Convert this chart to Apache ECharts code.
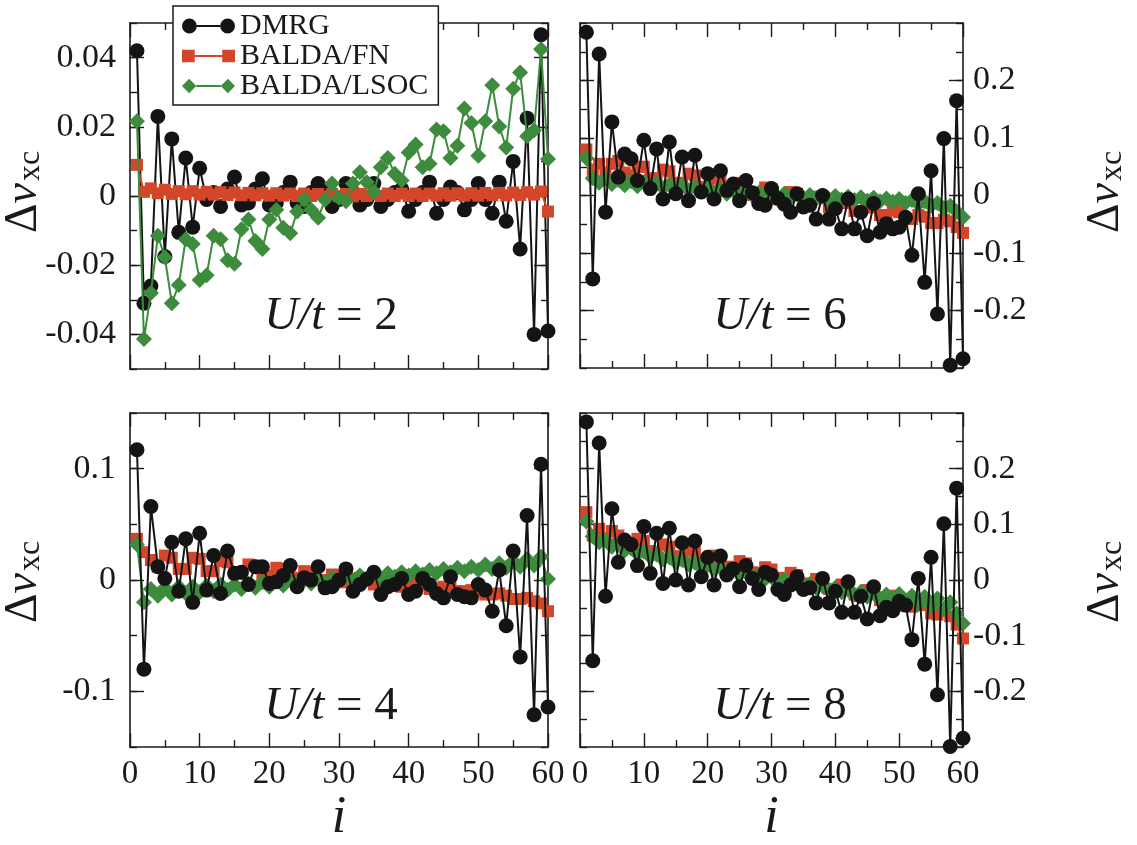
<!DOCTYPE html>
<html><head><meta charset="utf-8">
<script src="https://cdn.jsdelivr.net/npm/echarts@6.0.0/dist/echarts.min.js"></script>
<style>html,body{margin:0;padding:0;background:#fff}#chart{width:1137px;height:845px}</style>
</head><body><div id="chart"></div>
<script>
// ---------------- data ----------------
const SITES = [1,2,3,4,5,6,7,8,9,10,11,12,13,14,15,16,17,18,19,20,21,22,23,24,25,26,27,28,29,30,
  31,32,33,34,35,36,37,38,39,40,41,42,43,44,45,46,47,48,49,50,51,52,53,54,55,56,57,58,59,60];

const SERIES_NAMES = ['DMRG', 'BALDA/FN', 'BALDA/LSOC'];
const PANEL_LABELS = ['2', '6', '4', '8'];   // U/t values

// U/t = 2 (top left)
const TL_DMRG = [
  0.042, -0.031, -0.026, 0.023, -0.0175, 0.0165, -0.0105, 0.011, -0.009, 0.008,
  -0.001, 0.001, -0.003, 0.002, 0.0055, -0.0026, -0.002, 0.002, 0.005, -0.0026,
  -0.002, 0.001, 0.004, -0.002, -0.003, 0.001, 0.0036, 0.001, -0.003, -0.001,
  0.0036, 0.001, -0.0026, -0.001, 0.0036, -0.003, -0.001, 0.001, 0.002, -0.0044,
  -0.001, 0.001, 0.004, -0.005, -0.001, 0.0026, 0.001, -0.004, -0.001, 0.0036,
  -0.001, -0.005, 0.004, -0.0073, 0.010, -0.0153, 0.0225, -0.040, 0.0466, -0.039];
const TL_FN = [
  0.009, 0.0012, 0.0022, 0.0008, 0.0018, 0.0006, 0.0014, 0.0005, 0.0014, 0.0004,
  0.0012, 0.0004, 0.0011, 0.0003, 0.0010, 0.0002, 0.0009, 0.0002, 0.0008, 0.0001,
  0.0008, 0.0001, 0.0007, 0.0000, 0.0007, 0.0000, 0.0006, -0.0001, 0.0006, -0.0001,
  0.0006, -0.0001, 0.0006, 0.0000, 0.0006, 0.0000, 0.0007, 0.0000, 0.0007, 0.0000,
  0.0007, 0.0000, 0.0007, 0.0001, 0.0008, 0.0001, 0.0008, 0.0001, 0.0008, 0.0001,
  0.0009, 0.0002, 0.0009, 0.0002, 0.0010, 0.0003, 0.0011, 0.0004, 0.0013, -0.0045];
const TL_LSOC = [
  0.0216, -0.0413, -0.028, -0.0115, -0.0177, -0.031, -0.0257, -0.0125, -0.0139, -0.0243,
  -0.0229, -0.0115, -0.0125, -0.0186, -0.0196, -0.0096, -0.0068, -0.013, -0.0153, -0.0068,
  -0.004, -0.0092, -0.0108, -0.0045, -0.0011, -0.004, -0.0063, -0.0011, 0.0036, -0.0005,
  -0.0015, 0.0036, 0.0069, 0.004, 0.0012, 0.0083, 0.011, 0.0064, 0.0045, 0.0126,
  0.0149, 0.0083, 0.0093, 0.0192, 0.0187, 0.011, 0.0145, 0.0253, 0.0211, 0.0116,
  0.0216, 0.032, 0.0201, 0.014, 0.031, 0.0357, 0.0173, 0.019, 0.0424, 0.0107];

// U/t = 6 (top right)
const TR_DMRG = [
  0.284, -0.145, 0.246, -0.029, 0.128, 0.032, 0.072, 0.064, 0.026, 0.096,
  0.012, 0.081, -0.006, 0.093, 0.003, 0.067, -0.009, 0.070, 0.006, 0.038,
  -0.006, 0.043, 0.009, 0.020, -0.009, 0.026, 0.005, -0.014, -0.017, 0.012,
  -0.005, -0.015, -0.029, 0.003, -0.020, -0.017, -0.041, 0.000, -0.041, -0.023,
  -0.058, -0.006, -0.058, -0.029, -0.070, -0.014, -0.064, -0.049, -0.058, -0.055,
  -0.038, -0.104, 0.003, -0.151, 0.043, -0.206, 0.099, -0.295, 0.165, -0.284];
const TR_FN = [
  0.080, 0.045, 0.055, 0.040, 0.055, 0.060, 0.040, 0.035, 0.050, 0.050,
  0.030, 0.030, 0.045, 0.042, 0.022, 0.022, 0.038, 0.035, 0.015, 0.015,
  0.030, 0.027, 0.008, 0.008, 0.022, 0.019, 0.001, 0.001, 0.014, 0.011,
  -0.006, -0.006, 0.006, 0.003, -0.013, -0.013, -0.002, -0.005, -0.020, -0.020,
  -0.010, -0.013, -0.027, -0.027, -0.018, -0.021, -0.034, -0.034, -0.026, -0.029,
  -0.041, -0.041, -0.034, -0.037, -0.048, -0.048, -0.042, -0.045, -0.055, -0.065];
const TR_LSOC = [
  0.065, 0.030, 0.022, 0.030, 0.020, 0.027, 0.018, 0.025, 0.016, 0.023,
  0.015, 0.021, 0.013, 0.019, 0.011, 0.017, 0.009, 0.015, 0.007, 0.013,
  0.005, 0.011, 0.003, 0.009, 0.002, 0.007, 0.000, 0.005, -0.001, 0.004,
  -0.002, 0.003, -0.003, 0.002, -0.004, 0.001, -0.005, 0.000, -0.006, -0.001,
  -0.007, -0.002, -0.008, -0.003, -0.009, -0.004, -0.010, -0.005, -0.011, -0.006,
  -0.013, -0.008, -0.015, -0.010, -0.018, -0.013, -0.022, -0.018, -0.028, -0.038];

// U/t = 4 (bottom left)
const BL_DMRG = [
  0.117, -0.080, 0.066, 0.012, 0.0015, 0.034, -0.010, 0.037, -0.020, 0.042,
  -0.009, 0.022, -0.012, 0.026, 0.006, 0.007, -0.004, 0.012, 0.012, -0.003,
  -0.0015, 0.004, 0.013, -0.006, 0.002, 0.000, 0.012, -0.007, -0.006, 0.000,
  0.010, -0.010, -0.004, 0.001, 0.007, -0.013, -0.006, -0.004, 0.0015, -0.013,
  -0.010, 0.0015, -0.004, -0.012, -0.016, 0.003, -0.013, -0.015, -0.016, -0.004,
  -0.009, -0.028, 0.009, -0.041, 0.026, -0.069, 0.058, -0.121, 0.104, -0.114];
const BL_FN = [
  0.037, 0.025, 0.018, 0.012, 0.022, 0.020, 0.010, 0.010, 0.020, 0.019,
  0.008, 0.008, 0.017, 0.016, 0.006, 0.006, 0.014, 0.013, 0.004, 0.004,
  0.011, 0.010, 0.002, 0.002, 0.008, 0.007, 0.000, 0.000, 0.005, 0.004,
  -0.002, -0.002, 0.002, 0.001, -0.004, -0.004, -0.001, -0.002, -0.006, -0.006,
  -0.003, -0.004, -0.008, -0.008, -0.006, -0.007, -0.010, -0.010, -0.009, -0.010,
  -0.013, -0.013, -0.012, -0.014, -0.017, -0.017, -0.016, -0.019, -0.021, -0.028];
const BL_LSOC = [
  0.032, -0.020, -0.008, -0.014, -0.007, -0.013, -0.006, -0.012, -0.006, -0.011,
  -0.005, -0.010, -0.004, -0.009, -0.004, -0.008, -0.003, -0.007, -0.002, -0.006,
  -0.001, -0.005, 0.000, -0.004, 0.000, -0.003, 0.001, -0.002, 0.002, -0.001,
  0.003, 0.000, 0.004, 0.001, 0.005, 0.002, 0.006, 0.003, 0.007, 0.004,
  0.008, 0.005, 0.009, 0.006, 0.010, 0.007, 0.011, 0.008, 0.012, 0.009,
  0.014, 0.010, 0.015, 0.011, 0.017, 0.012, 0.019, 0.013, 0.021, 0.001];

// U/t = 8 (bottom right)
const BR_DMRG = [
  0.284, -0.145, 0.246, -0.029, 0.128, 0.032, 0.072, 0.064, 0.026, 0.096,
  0.012, 0.084, -0.006, 0.093, 0.000, 0.067, -0.009, 0.070, 0.006, 0.041,
  -0.009, 0.043, 0.009, 0.020, -0.012, 0.026, 0.003, -0.017, 0.014, 0.009,
  -0.017, -0.026, -0.009, 0.006, -0.017, -0.014, -0.041, 0.003, -0.041, -0.020,
  -0.058, -0.003, -0.058, -0.029, -0.070, -0.012, -0.064, -0.049, -0.055, -0.038,
  -0.045, -0.107, 0.003, -0.151, 0.041, -0.206, 0.101, -0.299, 0.165, -0.284];
const BR_FN = [
  0.122, 0.080, 0.092, 0.075, 0.088, 0.080, 0.062, 0.060, 0.074, 0.070,
  0.052, 0.050, 0.064, 0.060, 0.043, 0.041, 0.054, 0.050, 0.034, 0.032,
  0.044, 0.040, 0.024, 0.022, 0.034, 0.030, 0.014, 0.012, 0.023, 0.019,
  0.004, 0.002, 0.013, 0.009, -0.006, -0.008, 0.002, -0.002, -0.016, -0.018,
  -0.008, -0.012, -0.026, -0.028, -0.018, -0.022, -0.036, -0.038, -0.028, -0.032,
  -0.046, -0.048, -0.040, -0.045, -0.060, -0.062, -0.055, -0.065, -0.080, -0.105];
const BR_LSOC = [
  0.105, 0.078, 0.068, 0.072, 0.060, 0.064, 0.053, 0.057, 0.047, 0.051,
  0.042, 0.046, 0.037, 0.041, 0.032, 0.036, 0.028, 0.031, 0.023, 0.027,
  0.019, 0.022, 0.014, 0.018, 0.010, 0.013, 0.006, 0.009, 0.002, 0.005,
  -0.002, 0.001, -0.006, -0.003, -0.010, -0.007, -0.014, -0.011, -0.018, -0.014,
  -0.022, -0.018, -0.026, -0.021, -0.030, -0.024, -0.033, -0.026, -0.036, -0.025,
  -0.040, -0.028, -0.043, -0.030, -0.047, -0.033, -0.052, -0.040, -0.060, -0.078];

// tick values
const X_RANGE = [0, 60];
const X_STEP = 10;
const TL_TICKS = [-0.04, -0.02, 0, 0.02, 0.04];
const TR_TICKS = [-0.2, -0.1, 0, 0.1, 0.2];
const BL_TICKS = [-0.1, 0, 0.1];
const BR_TICKS = [-0.2, -0.1, 0, 0.1, 0.2];

// ---------------- layout / style ----------------
const FONT = '"Liberation Serif", "DejaVu Serif", serif';
const INK = '#1a1a1a';
const COLORS = ['#141414', '#d4462a', '#3d8b3d'];

const panels = [
  {grid:{left:130, top:23, width:418, height:346}, range:[-0.05, 0.05], ticks:TL_TICKS, minor:0.01, side:'left',  showX:false, data:[TL_DMRG, TL_FN, TL_LSOC], dmrgTop:false, label:PANEL_LABELS[0], lx:331, ly:317, nx:24,   ny:192},
  {grid:{left:580, top:23, width:383, height:345}, range:[-0.3, 0.3],   ticks:TR_TICKS, minor:0.05, side:'right', showX:false, data:[TR_DMRG, TR_FN, TR_LSOC], dmrgTop:true,  label:PANEL_LABELS[1], lx:780, ly:317, nx:1106, ny:192},
  {grid:{left:130, top:413, width:418, height:345}, range:[-0.15, 0.15], ticks:BL_TICKS, minor:0.05, side:'left',  showX:true,  data:[BL_DMRG, BL_FN, BL_LSOC], dmrgTop:true,  label:PANEL_LABELS[2], lx:331, ly:707, nx:24,   ny:582},
  {grid:{left:580, top:413, width:383, height:345}, range:[-0.3, 0.3],   ticks:BR_TICKS, minor:0.05, side:'right', showX:true,  data:[BR_DMRG, BR_FN, BR_LSOC], dmrgTop:true,  label:PANEL_LABELS[3], lx:780, ly:707, nx:1106, ny:582}
];

const lineStyle = {color: INK, width: 1.6};
const tickStyle = {color: INK, width: 1.4};
const nameRich = {
  d: {fontSize: 46, fontFamily: FONT, fill: INK, lineHeight: 46},
  v: {fontSize: 46, fontFamily: FONT, fontStyle: 'italic', fill: INK, lineHeight: 46},
  s: {fontSize: 32, fontFamily: FONT, fill: INK, lineHeight: 32, padding: [24, 0, 0, 2], verticalAlign: 'bottom'}
};
const fmt = v => (v === 0 ? '0' : String(+(+v).toFixed(3)));

const grid = [], xAxis = [], yAxis = [], series = [], graphic = [];

panels.forEach((p, k) => {
  grid.push(Object.assign({containLabel: false}, p.grid));
  const xBase = {
    type: 'value', gridIndex: k, min: X_RANGE[0], max: X_RANGE[1], interval: X_STEP,
    axisLine: {show: true, onZero: false, lineStyle},
    axisTick: {show: true, inside: true, length: 14, lineStyle: tickStyle},
    minorTick: {show: true, splitNumber: 2, length: 7, lineStyle: tickStyle},
    splitLine: {show: false}, minorSplitLine: {show: false}
  };
  xAxis.push(Object.assign({}, xBase, {
    position: 'bottom',
    axisLabel: {show: p.showX, margin: 11, fontSize: 33, fontFamily: FONT, color: INK},
    name: p.showX ? 'i' : '', nameLocation: 'middle', nameGap: 36,
    nameTextStyle: {fontSize: 52, fontStyle: 'italic', fontFamily: FONT, color: INK}
  }));
  xAxis.push(Object.assign({}, xBase, {position: 'top', axisLabel: {show: false}}));

  ['left', 'right'].forEach(pos => {
    const labeled = pos === p.side;
    yAxis.push({
      type: 'value', gridIndex: k, position: pos, min: p.range[0], max: p.range[1],
      axisLine: {show: true, onZero: false, lineStyle},
      axisTick: {show: true, inside: true, length: 14, customValues: p.ticks, lineStyle: tickStyle},
      axisLabel: {show: labeled, customValues: p.ticks, formatter: fmt, margin: pos === 'left' ? 14 : 10,
                  fontSize: 34, fontFamily: FONT, color: INK},
      splitLine: {show: false}
    });
    yAxis.push({
      type: 'value', gridIndex: k, position: pos, min: p.range[0], max: p.range[1], interval: p.minor,
      axisLine: {show: false, onZero: false},
      axisTick: {show: true, inside: true, length: 7, lineStyle: tickStyle},
      axisLabel: {show: false}, splitLine: {show: false}
    });
  });

  const zs = p.dmrgTop ? [5, 3, 4] : [3, 4, 5];
  const syms = [['circle', 15], ['rect', 12], ['diamond', 16]];
  p.data.forEach((vals, j) => {
    series.push({
      type: 'line', name: SERIES_NAMES[j], xAxisIndex: 2 * k, yAxisIndex: 4 * k,
      data: SITES.map((s, n) => [s, vals[n]]),
      symbol: syms[j][0], symbolSize: syms[j][1], showSymbol: true, showAllSymbol: true,
      itemStyle: {color: COLORS[j]}, lineStyle: {color: COLORS[j], width: 2},
      z: zs[j], clip: false, animation: false, emphasis: {disabled: true}
    });
  });

  graphic.push({
    type: 'text', x: p.lx, y: p.ly, z: 20,
    style: {
      text: '{i|U/t} = ' + p.label,
      rich: {i: {fontStyle: 'italic', fontSize: 47, fontFamily: FONT, fill: INK}},
      fontSize: 47, fontFamily: FONT, fill: INK, align: 'center', verticalAlign: 'middle'
    }
  });
  // y-axis title  Δv_xc  (rotated, reads bottom to top)
  graphic.push({
    type: 'text', x: p.nx, y: p.ny, rotation: Math.PI / 2, z: 20,
    style: {
      text: '{d|Δ}{v|v}{s|xc}', rich: nameRich,
      fontSize: 46, fontFamily: FONT, fill: INK, align: 'center', verticalAlign: 'middle'
    }
  });
});

const ICONS = {
  'DMRG': 'path://M1,8A7,7 0 1,0 15,8A7,7 0 1,0 1,8Z M37,8A7,7 0 1,0 51,8A7,7 0 1,0 37,8Z M15,7L37,7L37,9L15,9Z',
  'BALDA/FN': 'path://M1,2H13V14H1Z M39,2H51V14H39Z M13,7H39V9H13Z',
  'BALDA/LSOC': 'path://M0,8L7,1L14,8L7,15Z M38,8L45,1L52,8L45,15Z M14,7H38V9H14Z'
};

const chart = echarts.init(document.getElementById('chart'), null, {renderer: 'canvas'});
chart.setOption({
  animation: false,
  backgroundColor: '#fff',
  grid, xAxis, yAxis, series, graphic,
  legend: {
    left: 173, top: 6, orient: 'vertical', z: 30,
    padding: [5, 10, 4, 9], itemGap: 0, itemWidth: 53, itemHeight: 15,
    backgroundColor: '#fff', borderColor: INK, borderWidth: 1.5, borderRadius: 0,
    selectedMode: false,
    textStyle: {fontSize: 30, fontFamily: FONT, color: INK, lineHeight: 29},
    data: SERIES_NAMES.map(n => ({name: n, icon: ICONS[n]}))
  }
});
</script>
</body></html>
